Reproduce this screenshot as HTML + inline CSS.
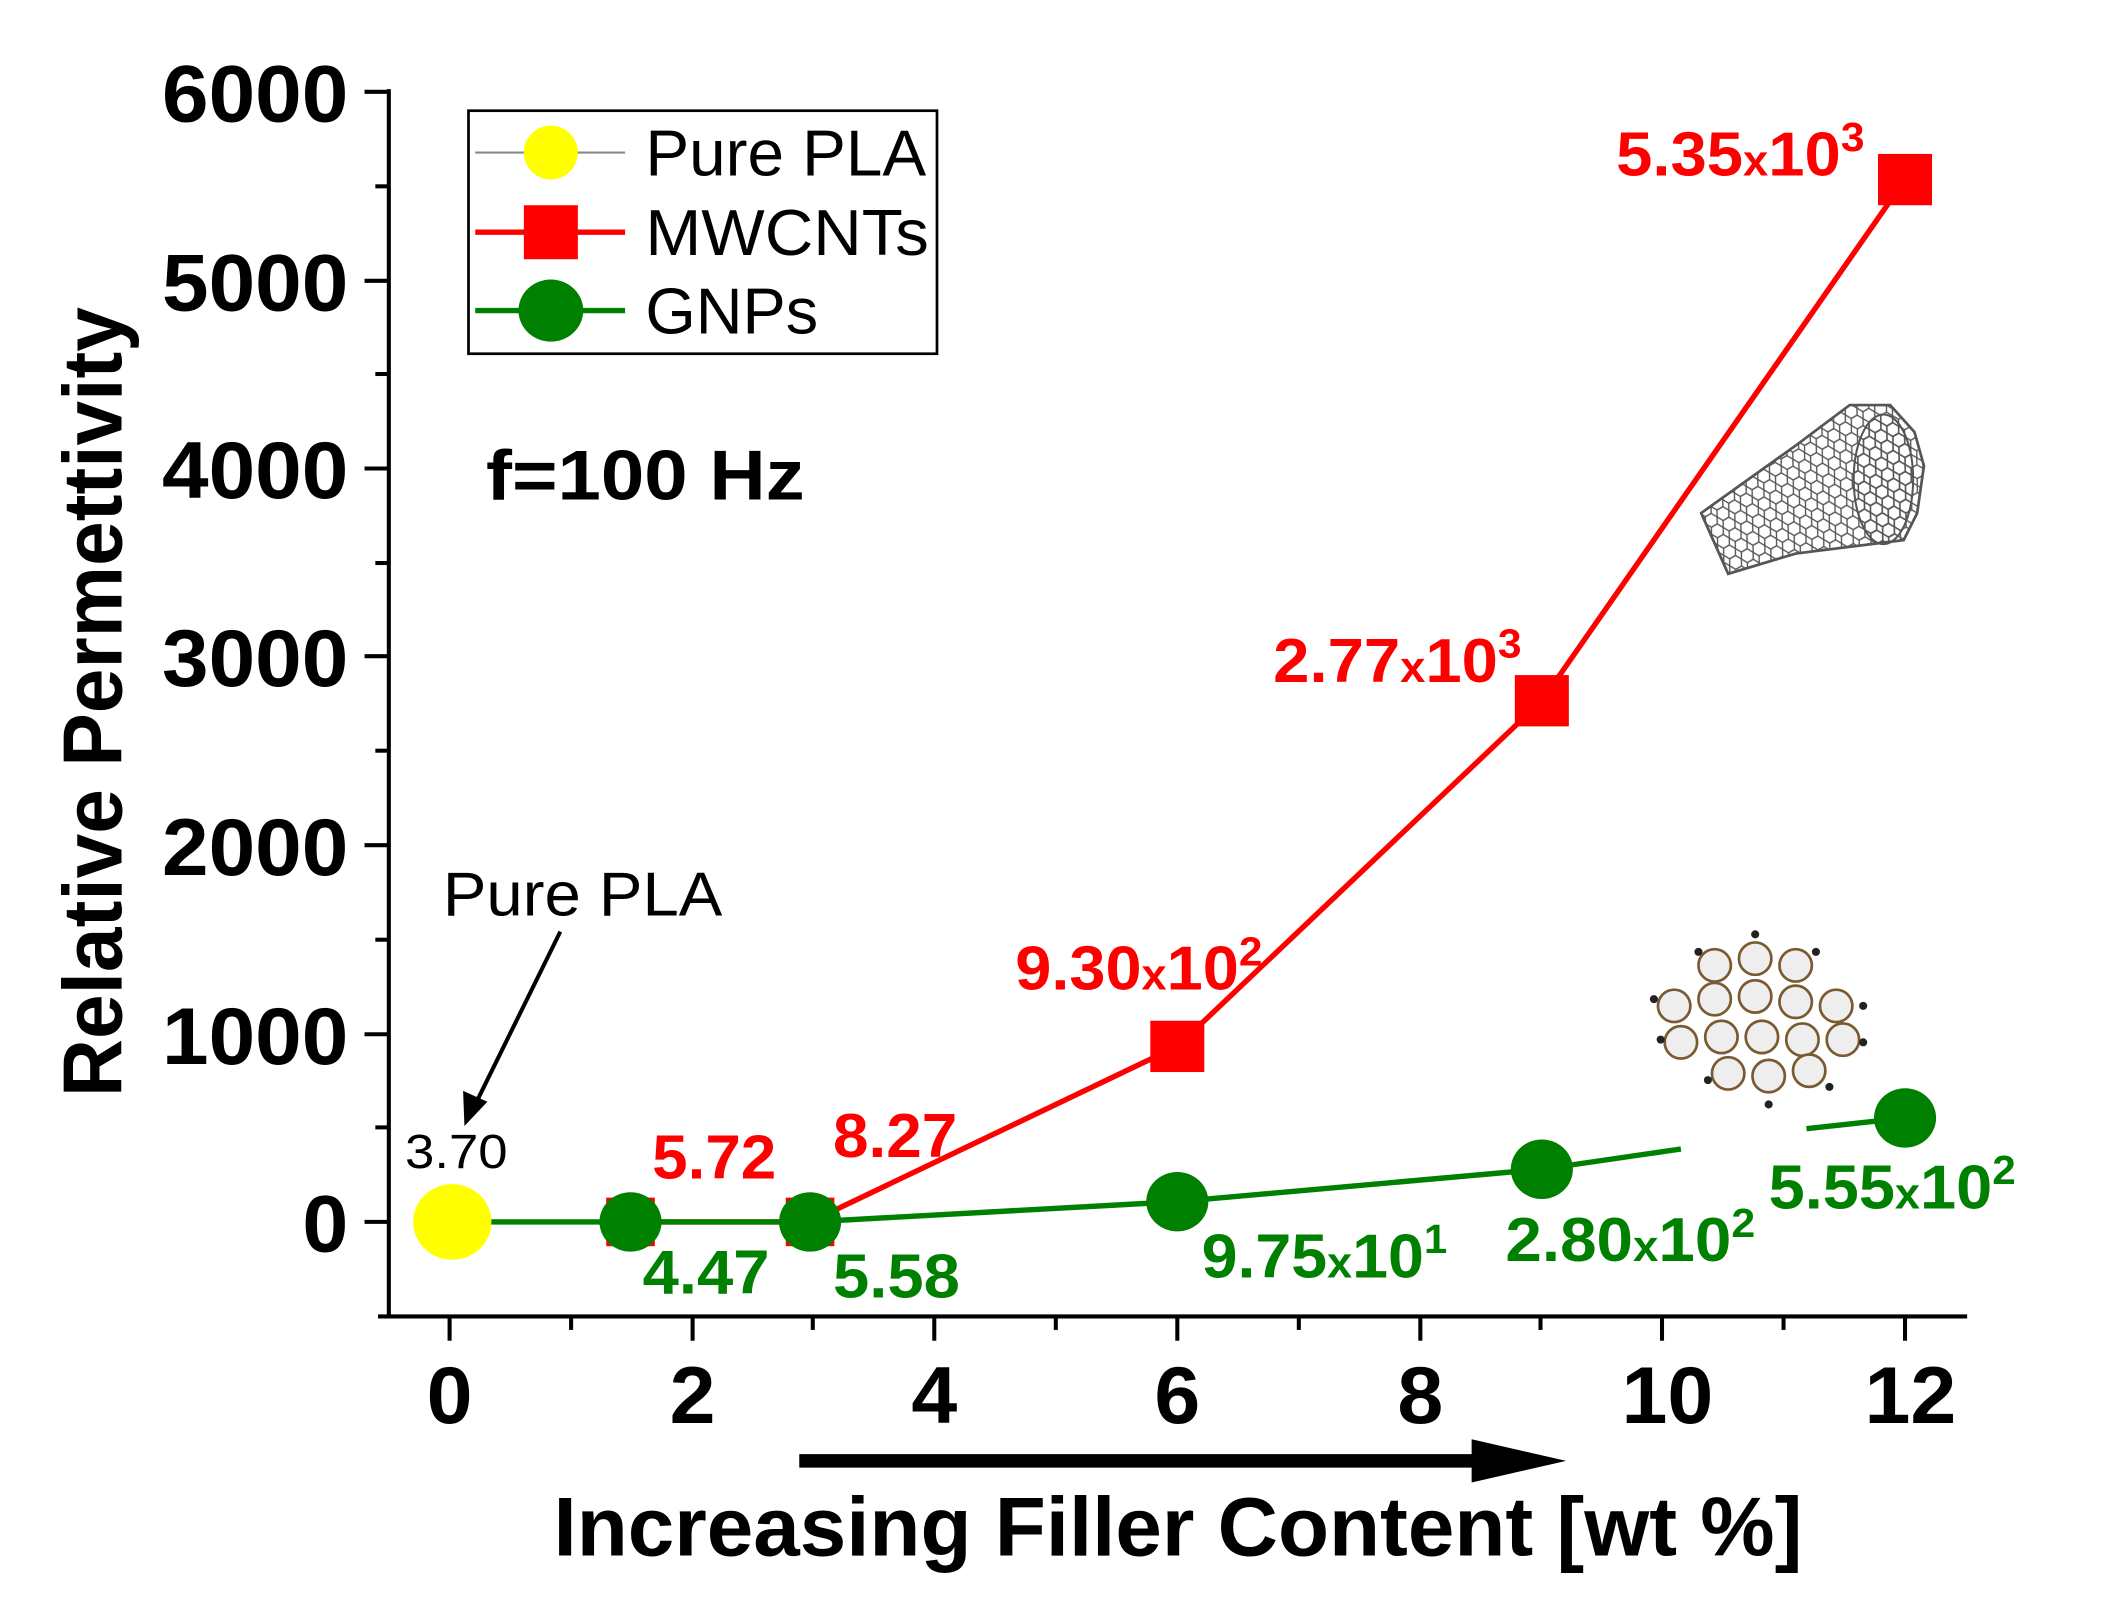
<!DOCTYPE html>
<html><head><meta charset="utf-8"><style>
html,body{margin:0;padding:0;background:#fff;}
svg{display:block;}
text{font-family:"Liberation Sans",Arial,sans-serif;}
.b{font-weight:bold;}
</style></head><body>
<svg width="2117" height="1604" viewBox="0 0 1568 1188" preserveAspectRatio="none" xmlns="http://www.w3.org/2000/svg">
<defs>
<pattern id="hex" width="10" height="9" patternUnits="userSpaceOnUse" patternTransform="rotate(-30)">
<path d="M0 4.5 L2.5 0 L7.5 0 L10 4.5 L7.5 9 L2.5 9 Z" fill="none" stroke="#555" stroke-width="1"/>
</pattern>
</defs>
<g stroke="#000" stroke-width="3" fill="none">
<line x1="288" y1="66" x2="288" y2="976"/>
<line x1="280" y1="975" x2="1457" y2="975"/>
</g>
<g stroke="#000" stroke-width="3">
<line x1="270" y1="68" x2="288" y2="68"/><line x1="278" y1="138" x2="288" y2="138"/>
<line x1="270" y1="208" x2="288" y2="208"/><line x1="278" y1="277" x2="288" y2="277"/>
<line x1="270" y1="347" x2="288" y2="347"/><line x1="278" y1="417" x2="288" y2="417"/>
<line x1="270" y1="486" x2="288" y2="486"/><line x1="278" y1="556" x2="288" y2="556"/>
<line x1="270" y1="626" x2="288" y2="626"/><line x1="278" y1="696" x2="288" y2="696"/>
<line x1="270" y1="766" x2="288" y2="766"/><line x1="278" y1="835" x2="288" y2="835"/>
<line x1="270" y1="905" x2="288" y2="905"/>
<line x1="333" y1="975" x2="333" y2="993"/><line x1="423" y1="975" x2="423" y2="985"/>
<line x1="513" y1="975" x2="513" y2="993"/><line x1="602" y1="975" x2="602" y2="985"/>
<line x1="692" y1="975" x2="692" y2="993"/><line x1="782" y1="975" x2="782" y2="985"/>
<line x1="872" y1="975" x2="872" y2="993"/><line x1="962" y1="975" x2="962" y2="985"/>
<line x1="1052" y1="975" x2="1052" y2="993"/><line x1="1141" y1="975" x2="1141" y2="985"/>
<line x1="1231" y1="975" x2="1231" y2="993"/><line x1="1321" y1="975" x2="1321" y2="985"/>
<line x1="1411" y1="975" x2="1411" y2="993"/>
</g>
<g class="b" font-size="60" text-anchor="end" fill="#000" lengthAdjust="spacingAndGlyphs">
<text x="258" y="90" textLength="138" lengthAdjust="spacingAndGlyphs">6000</text>
<text x="258" y="230" textLength="138" lengthAdjust="spacingAndGlyphs">5000</text>
<text x="258" y="369" textLength="138" lengthAdjust="spacingAndGlyphs">4000</text>
<text x="258" y="508" textLength="138" lengthAdjust="spacingAndGlyphs">3000</text>
<text x="258" y="648" textLength="138" lengthAdjust="spacingAndGlyphs">2000</text>
<text x="258" y="788" textLength="138" lengthAdjust="spacingAndGlyphs">1000</text>
<text x="258" y="927" textLength="34" lengthAdjust="spacingAndGlyphs">0</text>
</g>
<g class="b" font-size="60" fill="#000">
<text x="316" y="1054" textLength="34" lengthAdjust="spacingAndGlyphs">0</text>
<text x="496" y="1054" textLength="34" lengthAdjust="spacingAndGlyphs">2</text>
<text x="675" y="1054" textLength="34" lengthAdjust="spacingAndGlyphs">4</text>
<text x="855" y="1054" textLength="34" lengthAdjust="spacingAndGlyphs">6</text>
<text x="1035" y="1054" textLength="34" lengthAdjust="spacingAndGlyphs">8</text>
<text x="1201" y="1054" textLength="68" lengthAdjust="spacingAndGlyphs">10</text>
<text x="1381" y="1054" textLength="68" lengthAdjust="spacingAndGlyphs">12</text>
</g>
<text class="b" font-size="62" transform="translate(90,520) rotate(-90)" text-anchor="middle" textLength="585" lengthAdjust="spacingAndGlyphs">Relative Permettivity</text>
<text class="b" font-size="62" x="410" y="1152" textLength="925" lengthAdjust="spacingAndGlyphs">Increasing Filler Content [wt %]</text>
<line x1="592" y1="1082" x2="1100" y2="1082" stroke="#000" stroke-width="10"/>
<polygon points="1090,1066 1160,1082 1090,1098" fill="#000"/>
<g>
<polygon points="1260,380 1330,330 1370,300 1400,300 1418,320 1425,345 1420,380 1410,400 1330,410 1280,425" fill="url(#hex)" stroke="#555" stroke-width="2"/>
<ellipse cx="1395" cy="355" rx="22" ry="48" fill="url(#hex)" stroke="#555" stroke-width="1.5"/>
</g>
<g fill="#eee" stroke="#7a5a30" stroke-width="2">
<circle cx="1270" cy="715" r="12"/><circle cx="1300" cy="710" r="12"/><circle cx="1330" cy="715" r="12"/>
<circle cx="1240" cy="745" r="12"/><circle cx="1270" cy="740" r="12"/><circle cx="1300" cy="738" r="12"/><circle cx="1330" cy="742" r="12"/><circle cx="1360" cy="745" r="12"/>
<circle cx="1245" cy="772" r="12"/><circle cx="1275" cy="768" r="12"/><circle cx="1305" cy="768" r="12"/><circle cx="1335" cy="770" r="12"/><circle cx="1365" cy="770" r="12"/>
<circle cx="1280" cy="795" r="12"/><circle cx="1310" cy="797" r="12"/><circle cx="1340" cy="793" r="12"/>
</g>
<g fill="#222">
<circle cx="1258" cy="705" r="3"/><circle cx="1300" cy="692" r="3"/><circle cx="1345" cy="705" r="3"/><circle cx="1225" cy="740" r="3"/><circle cx="1380" cy="745" r="3"/><circle cx="1230" cy="770" r="3"/><circle cx="1380" cy="772" r="3"/><circle cx="1265" cy="800" r="3"/><circle cx="1310" cy="818" r="3"/><circle cx="1355" cy="805" r="3"/>
</g>
<polyline points="467,905 600,905 872,775 1142,519 1411,133" fill="none" stroke="#f00" stroke-width="4"/>
<polyline points="333,905 467,905 600,905 872,890 1142,866 1245,851" fill="none" stroke="#008000" stroke-width="4"/>
<line x1="1338" y1="836" x2="1411" y2="828" stroke="#008000" stroke-width="4"/>
<g fill="#f00">
<rect x="449" y="887" width="36" height="36"/><rect x="582" y="887" width="36" height="36"/>
<rect x="852" y="756" width="40" height="38"/><rect x="1122" y="500" width="40" height="38"/><rect x="1391" y="114" width="40" height="38"/>
</g>
<g fill="#008000">
<ellipse cx="467" cy="905" rx="23" ry="22"/><ellipse cx="600" cy="905" rx="23" ry="22"/>
<ellipse cx="872" cy="890" rx="23" ry="22"/><ellipse cx="1142" cy="866" rx="23" ry="22"/><ellipse cx="1411" cy="828" rx="23" ry="22"/>
</g>
<ellipse cx="335" cy="905" rx="29" ry="28" fill="#ff0"/>
<rect x="347" y="82" width="347" height="180" fill="#fff" stroke="#000" stroke-width="2"/>
<line x1="352" y1="113" x2="463" y2="113" stroke="#888" stroke-width="1.5"/>
<ellipse cx="408" cy="113" rx="20" ry="20" fill="#ff0"/>
<line x1="352" y1="172" x2="463" y2="172" stroke="#f00" stroke-width="4"/>
<rect x="388" y="152" width="40" height="40" fill="#f00"/>
<line x1="352" y1="230" x2="463" y2="230" stroke="#008000" stroke-width="4"/>
<ellipse cx="408" cy="230" rx="24" ry="23" fill="#008000"/>
<g font-size="48" fill="#000">
<text x="478" y="130" textLength="208" lengthAdjust="spacingAndGlyphs">Pure PLA</text>
<text x="478" y="189" textLength="210" lengthAdjust="spacingAndGlyphs">MWCNTs</text>
<text x="478" y="247" textLength="128" lengthAdjust="spacingAndGlyphs">GNPs</text>
</g>
<text class="b" font-size="52" x="360" y="370" textLength="236" lengthAdjust="spacingAndGlyphs">f=100 Hz</text>
<text font-size="46" x="328" y="678" textLength="207" lengthAdjust="spacingAndGlyphs">Pure PLA</text>
<line x1="415" y1="690" x2="352" y2="818" stroke="#000" stroke-width="3"/>
<polygon points="344,834 343,808 361,816" fill="#000"/>
<text font-size="36" x="300" y="865" textLength="76" lengthAdjust="spacingAndGlyphs">3.70</text>
<g class="b" font-size="46" fill="#f00">
<text x="483" y="873" textLength="92" lengthAdjust="spacingAndGlyphs">5.72</text>
<text x="617" y="857" textLength="92" lengthAdjust="spacingAndGlyphs">8.27</text>
<text x="752" y="733" textLength="183" lengthAdjust="spacingAndGlyphs">9.30<tspan font-size="32">x</tspan>10<tspan font-size="30" dy="-18">2</tspan></text>
<text x="943" y="505" textLength="184" lengthAdjust="spacingAndGlyphs">2.77<tspan font-size="32">x</tspan>10<tspan font-size="30" dy="-18">3</tspan></text>
<text x="1197" y="130" textLength="184" lengthAdjust="spacingAndGlyphs">5.35<tspan font-size="32">x</tspan>10<tspan font-size="30" dy="-18">3</tspan></text>
</g>
<g class="b" font-size="46" fill="#008000">
<text x="476" y="958" textLength="94" lengthAdjust="spacingAndGlyphs">4.47</text>
<text x="617" y="961" textLength="94" lengthAdjust="spacingAndGlyphs">5.58</text>
<text x="890" y="946" textLength="182" lengthAdjust="spacingAndGlyphs">9.75<tspan font-size="32">x</tspan>10<tspan font-size="30" dy="-18">1</tspan></text>
<text x="1115" y="934" textLength="185" lengthAdjust="spacingAndGlyphs">2.80<tspan font-size="32">x</tspan>10<tspan font-size="30" dy="-18">2</tspan></text>
<text x="1310" y="895" textLength="183" lengthAdjust="spacingAndGlyphs">5.55<tspan font-size="32">x</tspan>10<tspan font-size="30" dy="-18">2</tspan></text>
</g>
</svg>
</body></html>
